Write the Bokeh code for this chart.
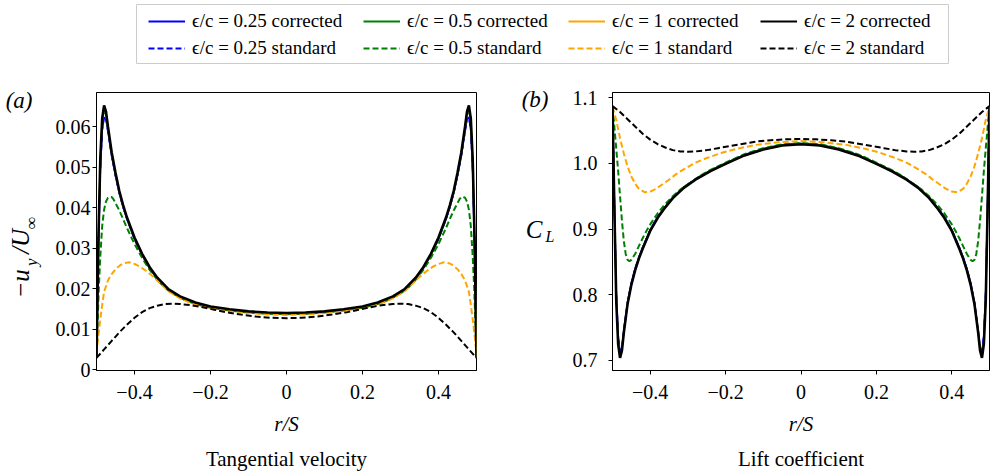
from bokeh.plotting import figure
from bokeh.models import Range1d, FixedTicker, Legend, LegendItem, LinearAxis, Title
from bokeh.layouts import column, row
from bokeh.embed import file_html
from bokeh.resources import INLINE

FONT = "Liberation Serif"

# ---------------- data ----------------
EPS = ["0.25", "0.5", "1", "2"]
COLORS = ["blue", "green", "orange", "black"]

R_C = [-0.5, -0.495, -0.49, -0.485, -0.48, -0.475, -0.47, -0.46, -0.45, -0.44, -0.43, -0.42, -0.4, -0.38,
       -0.36, -0.34, -0.31, -0.28, -0.24, -0.2, -0.15, -0.1, -0.05, 0.0, 0.05, 0.1, 0.15, 0.2, 0.24, 0.28,
       0.31, 0.34, 0.36, 0.38, 0.4, 0.42, 0.43, 0.44, 0.45, 0.46, 0.47, 0.475, 0.48, 0.485, 0.49, 0.495, 0.5]
R_S05 = [-0.5, -0.497, -0.494, -0.49, -0.485, -0.48, -0.475, -0.47, -0.465, -0.46, -0.455, -0.45, -0.44,
         -0.43, -0.42, -0.41, -0.4, -0.38, -0.36, -0.34, -0.32, -0.3, -0.27, -0.24, -0.2, -0.15, -0.1, -0.05,
         0.0, 0.05, 0.1, 0.15, 0.2, 0.24, 0.27, 0.3, 0.32, 0.34, 0.36, 0.38, 0.4, 0.41, 0.42, 0.43, 0.44,
         0.45, 0.455, 0.46, 0.465, 0.47, 0.475, 0.48, 0.485, 0.49, 0.494, 0.497, 0.5]
R_S1 = [-0.5, -0.495, -0.49, -0.485, -0.48, -0.47, -0.46, -0.45, -0.44, -0.43, -0.415, -0.4, -0.385, -0.37,
        -0.35, -0.33, -0.31, -0.28, -0.25, -0.21, -0.17, -0.12, -0.06, 0.0, 0.06, 0.12, 0.17, 0.21, 0.25,
        0.28, 0.31, 0.33, 0.35, 0.37, 0.385, 0.4, 0.415, 0.43, 0.44, 0.45, 0.46, 0.47, 0.48, 0.485, 0.49,
        0.495, 0.5]
R_S2 = [-0.5, -0.48, -0.46, -0.44, -0.42, -0.4, -0.38, -0.36, -0.34, -0.32, -0.3, -0.28, -0.25, -0.22,
        -0.19, -0.16, -0.12, -0.08, -0.04, 0.0, 0.04, 0.08, 0.12, 0.16, 0.19, 0.22, 0.25, 0.28, 0.3, 0.32,
        0.34, 0.36, 0.38, 0.4, 0.42, 0.44, 0.46, 0.48, 0.5]

# (a) tangential velocity  -u_y / U_inf
UY_C025 = [0.003, 0.030, 0.049, 0.059, 0.0623, 0.0618, 0.0588, 0.0527, 0.0478, 0.0435, 0.0401, 0.0372, 0.0322,
           0.0283, 0.0250, 0.0224, 0.0196, 0.0178, 0.0164, 0.0154, 0.0147, 0.0142, 0.0139, 0.0138,
           0.0139, 0.0142, 0.0147, 0.0154, 0.0164, 0.0178, 0.0196, 0.0224, 0.0250, 0.0283, 0.0322, 0.0372,
           0.0401, 0.0435, 0.0478, 0.0527, 0.0588, 0.0618, 0.0623, 0.059, 0.049, 0.030, 0.003]
UY_C05 = [0.003, 0.031, 0.051, 0.061, 0.0640, 0.0628, 0.0595, 0.0532, 0.0482, 0.0438, 0.0403, 0.0374, 0.0324,
          0.0284, 0.0251, 0.0225, 0.0197, 0.0179, 0.0165, 0.0155, 0.0148, 0.0143, 0.0140, 0.0139,
          0.0140, 0.0143, 0.0148, 0.0155, 0.0165, 0.0179, 0.0197, 0.0225, 0.0251, 0.0284, 0.0324, 0.0374,
          0.0403, 0.0438, 0.0482, 0.0532, 0.0595, 0.0628, 0.0640, 0.061, 0.051, 0.031, 0.003]
UY_C1 = [0.003, 0.032, 0.052, 0.062, 0.0645, 0.0632, 0.0598, 0.0534, 0.0484, 0.0439, 0.0404, 0.0375, 0.0325,
         0.0285, 0.0252, 0.0226, 0.0197, 0.0180, 0.0165, 0.0155, 0.0148, 0.0143, 0.0140, 0.0139,
         0.0140, 0.0143, 0.0148, 0.0155, 0.0165, 0.0180, 0.0197, 0.0226, 0.0252, 0.0285, 0.0325, 0.0375,
         0.0404, 0.0439, 0.0484, 0.0534, 0.0598, 0.0632, 0.0645, 0.062, 0.052, 0.032, 0.003]
UY_C2 = [0.003, 0.032, 0.052, 0.062, 0.0652, 0.0637, 0.0601, 0.0536, 0.0486, 0.0441, 0.0406, 0.0376, 0.0326,
         0.0286, 0.0253, 0.0227, 0.0198, 0.0181, 0.0166, 0.0156, 0.0149, 0.0144, 0.0141, 0.0140,
         0.0141, 0.0144, 0.0149, 0.0156, 0.0166, 0.0181, 0.0198, 0.0227, 0.0253, 0.0286, 0.0326, 0.0376,
         0.0406, 0.0441, 0.0486, 0.0536, 0.0601, 0.0637, 0.0652, 0.062, 0.052, 0.032, 0.003]
UY_S05 = [0.0035, 0.012, 0.020, 0.028, 0.0355, 0.0395, 0.0415, 0.0424, 0.0427, 0.0426, 0.0420, 0.0411, 0.0393,
          0.0372, 0.0350, 0.0330, 0.0310, 0.0276, 0.0246, 0.0222, 0.0202, 0.0188, 0.0173, 0.0162, 0.0153,
          0.0146, 0.0141, 0.0138, 0.0137,
          0.0138, 0.0141, 0.0146, 0.0153, 0.0162, 0.0173, 0.0188, 0.0202, 0.0222, 0.0246, 0.0276, 0.0310,
          0.0330, 0.0350, 0.0372, 0.0393, 0.0411, 0.0420, 0.0426, 0.0427, 0.0424, 0.0415, 0.0395, 0.0355,
          0.028, 0.020, 0.012, 0.0035]
UY_S1 = [0.0040, 0.0085, 0.0125, 0.0160, 0.0192, 0.0220, 0.0236, 0.0248, 0.0256, 0.0262, 0.0265, 0.0261,
         0.0254, 0.0244, 0.0229, 0.0211, 0.0193, 0.0176, 0.0164, 0.0154, 0.0148, 0.0142, 0.0137, 0.0135,
         0.0137, 0.0142, 0.0148, 0.0154, 0.0164, 0.0176, 0.0193, 0.0211, 0.0229, 0.0244, 0.0254, 0.0261,
         0.0265, 0.0262, 0.0256, 0.0248, 0.0236, 0.0220, 0.0192, 0.0160, 0.0125, 0.0085, 0.0040]
UY_S2 = [0.0029, 0.0050, 0.0071, 0.0092, 0.0111, 0.0128, 0.0142, 0.0152, 0.0158, 0.0162, 0.0163, 0.0162,
         0.0159, 0.0154, 0.0148, 0.0142, 0.0136, 0.0131, 0.0128, 0.0127,
         0.0128, 0.0131, 0.0136, 0.0142, 0.0148, 0.0154, 0.0159, 0.0162, 0.0163, 0.0162, 0.0158, 0.0152,
         0.0142, 0.0128, 0.0111, 0.0092, 0.0071, 0.0050, 0.0029]

# (b) lift coefficient C_L
CL_C025 = [1.087, 0.940, 0.805, 0.738, 0.712, 0.720, 0.746, 0.789, 0.818, 0.840, 0.857, 0.872, 0.899, 0.919,
           0.934, 0.948, 0.964, 0.976, 0.989, 1.000, 1.013, 1.022, 1.028, 1.030,
           1.028, 1.022, 1.013, 1.000, 0.989, 0.976, 0.964, 0.948, 0.934, 0.919, 0.899, 0.872, 0.857, 0.840,
           0.818, 0.789, 0.746, 0.720, 0.712, 0.738, 0.805, 0.940, 1.087]
CL_C05 = [1.087, 0.935, 0.797, 0.731, 0.708, 0.717, 0.744, 0.787, 0.816, 0.838, 0.856, 0.871, 0.898, 0.918,
          0.934, 0.948, 0.964, 0.976, 0.989, 1.000, 1.013, 1.022, 1.028, 1.030,
          1.028, 1.022, 1.013, 1.000, 0.989, 0.976, 0.964, 0.948, 0.934, 0.918, 0.898, 0.871, 0.856, 0.838,
          0.816, 0.787, 0.744, 0.717, 0.708, 0.731, 0.797, 0.935, 1.087]
CL_C1 = [1.087, 0.932, 0.793, 0.727, 0.705, 0.716, 0.743, 0.786, 0.815, 0.837, 0.855, 0.870, 0.897, 0.917,
         0.933, 0.947, 0.963, 0.975, 0.988, 0.999, 1.012, 1.021, 1.027, 1.029,
         1.027, 1.021, 1.012, 0.999, 0.988, 0.975, 0.963, 0.947, 0.933, 0.917, 0.897, 0.870, 0.855, 0.837,
         0.815, 0.786, 0.743, 0.716, 0.705, 0.727, 0.793, 0.932, 1.087]
CL_C2 = [1.087, 0.930, 0.790, 0.725, 0.704, 0.715, 0.742, 0.786, 0.815, 0.837, 0.855, 0.870, 0.897, 0.917,
         0.933, 0.947, 0.963, 0.975, 0.988, 0.999, 1.012, 1.021, 1.027, 1.029,
         1.027, 1.021, 1.012, 0.999, 0.988, 0.975, 0.963, 0.947, 0.933, 0.917, 0.897, 0.870, 0.855, 0.837,
         0.815, 0.786, 0.742, 0.715, 0.704, 0.725, 0.790, 0.930, 1.087]
CL_S05 = [1.086, 1.068, 1.048, 1.022, 0.988, 0.950, 0.913, 0.882, 0.862, 0.853, 0.851, 0.853, 0.862, 0.874,
          0.886, 0.897, 0.907, 0.924, 0.938, 0.950, 0.960, 0.968, 0.980, 0.990, 1.001, 1.014, 1.023, 1.029,
          1.031,
          1.029, 1.023, 1.014, 1.001, 0.990, 0.980, 0.968, 0.960, 0.950, 0.938, 0.924, 0.907, 0.897, 0.886,
          0.874, 0.862, 0.853, 0.851, 0.853, 0.862, 0.882, 0.913, 0.950, 0.988, 1.022, 1.048, 1.068, 1.086]
CL_S1 = [1.086, 1.076, 1.066, 1.052, 1.038, 1.015, 0.995, 0.980, 0.969, 0.961, 0.956, 0.957, 0.961, 0.967,
         0.975, 0.984, 0.991, 1.001, 1.008, 1.016, 1.022, 1.028, 1.032, 1.034,
         1.032, 1.028, 1.022, 1.016, 1.008, 1.001, 0.991, 0.984, 0.975, 0.967, 0.961, 0.957, 0.956, 0.961,
         0.969, 0.980, 0.995, 1.015, 1.038, 1.052, 1.066, 1.076, 1.086]
CL_S2 = [1.087, 1.078, 1.067, 1.056, 1.045, 1.036, 1.029, 1.024, 1.020, 1.018, 1.0175, 1.018, 1.020, 1.023,
         1.026, 1.029, 1.033, 1.035, 1.0365, 1.037,
         1.0365, 1.035, 1.033, 1.029, 1.026, 1.023, 1.020, 1.018, 1.0175, 1.018, 1.020, 1.024, 1.029, 1.036,
         1.045, 1.056, 1.067, 1.078, 1.087]

X_TICKS = [-0.4, -0.2, 0.0, 0.2, 0.4]
X_TICK_LABELS = ["\u22120.4", "\u22120.2", "0", "0.2", "0.4"]
UY_TICKS = [0.0, 0.01, 0.02, 0.03, 0.04, 0.05, 0.06]
UY_TICK_LABELS = ["0", "0.01", "0.02", "0.03", "0.04", "0.05", "0.06"]
CL_TICKS = [0.7, 0.8, 0.9, 1.0, 1.1]
CL_TICK_LABELS = ["0.7", "0.8", "0.9", "1.0", "1.1"]
X_LABEL = "r/S"
TITLES = ["Tangential velocity", "Lift coefficient"]
PANEL_TAGS = ["(a)", "(b)"]
LEGEND_LABELS = [[f"\u03f5/c = {e} corrected", f"\u03f5/c = {e} standard"] for e in EPS]
# ---------------------------------------------------------------

UY_C = [UY_C025, UY_C05, UY_C1, UY_C2]
UY_S = [UY_C025, UY_S05, UY_S1, UY_S2]     # eps=0.25 standard lies on the corrected curve
CL_C = [CL_C025, CL_C05, CL_C1, CL_C2]
CL_S = [CL_C025, CL_S05, CL_S1, CL_S2]
R_SX = [R_C, R_S05, R_S1, R_S2]

TICK_PX = "20px"


def make_panel(yr, yticks, ylabels, left_border, right_border, ystandoff, title):
    p = figure(width=495, height=406, x_range=Range1d(-0.5, 0.5), y_range=Range1d(*yr),
               output_backend="svg", toolbar_location=None,
               min_border_left=left_border, min_border_right=right_border,
               min_border_top=22, min_border_bottom=103)
    p.grid.visible = False
    p.outline_line_color = "black"
    p.outline_line_width = 1
    p.background_fill_color = "white"
    p.border_fill_color = "white"
    for ax in (p.xaxis[0], p.yaxis[0]):
        ax.axis_line_color = "black"
        ax.major_tick_line_color = "black"
        ax.major_tick_out = 4
        ax.major_tick_in = 0
        ax.minor_tick_out = 0
        ax.minor_tick_in = 0
        ax.major_label_text_font = FONT
        ax.major_label_text_font_size = TICK_PX
        ax.major_label_text_color = "black"
    p.xaxis.major_label_standoff = 10
    p.yaxis.major_label_standoff = ystandoff
    p.xaxis.ticker = FixedTicker(ticks=X_TICKS)
    p.xaxis.major_label_overrides = {t: s for t, s in zip(X_TICKS, X_TICK_LABELS)}
    p.yaxis.ticker = FixedTicker(ticks=yticks)
    p.yaxis.major_label_overrides = {t: s for t, s in zip(yticks, ylabels)}
    p.xaxis.axis_label = X_LABEL
    p.xaxis.axis_label_text_font = FONT
    p.xaxis.axis_label_text_font_style = "italic"
    p.xaxis.axis_label_text_font_size = "21px"
    p.xaxis.axis_label_text_color = "black"
    p.xaxis.axis_label_standoff = 10
    p.add_layout(Title(text=title, align="center", text_font=FONT, text_font_size="21px",
                       text_font_style="normal", text_color="black", standoff=12), "below")
    return p


def text_axis(p, positions, texts, size, standoff, style="italic", orientation="horizontal"):
    """An axis without line or ticks, used only to set real text beside the frame."""
    ax = LinearAxis(ticker=FixedTicker(ticks=positions),
                    major_label_overrides={t: s for t, s in zip(positions, texts)},
                    axis_line_color=None, major_tick_line_color=None, minor_tick_line_color=None,
                    major_tick_out=0, major_tick_in=0, minor_tick_out=0, minor_tick_in=0,
                    major_label_text_font=FONT, major_label_text_font_size=f"{size}px",
                    major_label_text_font_style=style, major_label_text_color="black",
                    major_label_standoff=standoff, major_label_orientation=orientation)
    p.add_layout(ax, "left")


def add_lines(p, cor, std):
    for i in range(4):
        lw = 2.6 if COLORS[i] == "black" else 1.6
        p.line(R_C, cor[i], line_color=COLORS[i], line_width=lw)
        p.line(R_SX[i], std[i], line_color=COLORS[i], line_width=2 if i > 0 else 1.6, line_dash="6 3")


# panel (a)
p1 = make_panel((-0.0002, 0.0684), UY_TICKS, UY_TICK_LABELS, 96, 19, 2, TITLES[0])
add_lines(p1, UY_C, UY_S)
# y label  -u_y/U_inf : subscripts (closer to frame), then main glyphs, then the panel tag
text_axis(p1, [0.0265, 0.0362], ["y", "\u221e"], 17, 11, orientation="vertical")
text_axis(p1, [0.02117, 0.03167], ["\u2212u", "/U"], 25, -15, orientation="vertical")
text_axis(p1, [0.06635], [PANEL_TAGS[0]], 23, -28)

# panel (b)
p2 = make_panel((0.6847, 1.1077), CL_TICKS, CL_TICK_LABELS, 117, 1, 11, TITLES[1])
add_lines(p2, CL_C, CL_S)
text_axis(p2, [0.8884], ["L"], 16, 15)
text_axis(p2, [0.8990], ["C"], 25, 0)
text_axis(p2, [1.0971], [PANEL_TAGS[1]], 23, -26)

# legend strip: its frame outline is the legend box; the line renderers lie outside its visible range
lf = figure(width=990, height=70, x_range=Range1d(10, 11), y_range=Range1d(10, 11),
            x_axis_type=None, y_axis_type=None, output_backend="svg", toolbar_location=None,
            min_border_left=136, min_border_right=42, min_border_top=4, min_border_bottom=7,
            outline_line_color="#cccccc", outline_line_width=1)
lf.grid.visible = False
COL_X = [12, 227, 432, 624]
for i in range(4):
    lw = 2.2 if COLORS[i] == "black" else 1.8
    rc = lf.line(R_C, UY_C[i], line_color=COLORS[i], line_width=lw)
    rs = lf.line(R_SX[i], UY_S[i], line_color=COLORS[i], line_width=1.8, line_dash="6 3")
    leg = Legend(items=[LegendItem(label=LEGEND_LABELS[i][0], renderers=[rc]),
                        LegendItem(label=LEGEND_LABELS[i][1], renderers=[rs])],
                 location=(COL_X[i], 4), orientation="vertical",
                 label_text_font=FONT, label_text_font_size="19px", label_text_color="black",
                 glyph_width=37, glyph_height=22, label_height=22,
                 label_standoff=7, spacing=5, padding=0, margin=0,
                 border_line_color=None, background_fill_alpha=0)
    lf.add_layout(leg)

layout = column(lf, row(p1, p2, spacing=0), spacing=0)
open("out.html", "w").write(file_html(layout, INLINE))
